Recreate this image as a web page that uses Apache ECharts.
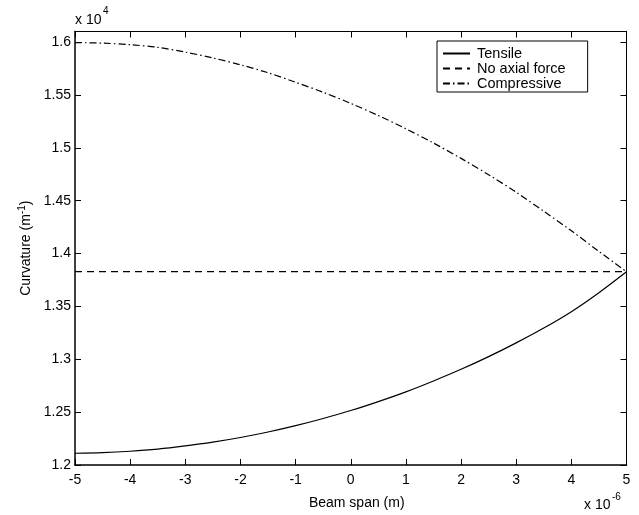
<!DOCTYPE html>
<html>
<head>
<meta charset="utf-8">
<script src="https://cdn.jsdelivr.net/npm/echarts@6/dist/echarts.min.js"></script>
<style>
  html, body { margin: 0; padding: 0; background: #fff; }
  #chart { width: 639px; height: 515px; }
</style>
</head>
<body>
<div id="chart"></div>
<script>
  // beam span (x 1e-6 m) and curvature (x 1e4 1/m)
  var spanX = [-5, -4.5, -4, -3.5, -3, -2.5, -2, -1.5, -1, -0.5, 0, 0.5, 1, 1.5, 2, 2.5, 3, 3.5, 4, 4.5, 5];
  var tensile = [1.2111, 1.2117, 1.2130, 1.2150, 1.2180, 1.2216, 1.2260, 1.2312, 1.2372, 1.2440, 1.2515,
                 1.2600, 1.2692, 1.2795, 1.2905, 1.3025, 1.3155, 1.3295, 1.3450, 1.3630, 1.3828];
  var compressive = [1.5995, 1.5990, 1.5975, 1.5950, 1.5905, 1.5850, 1.5785, 1.5710, 1.5620, 1.5525, 1.5420,
                     1.5305, 1.5180, 1.5045, 1.4900, 1.4745, 1.4580, 1.4400, 1.4215, 1.4020, 1.3828];
  var noAxialX = [-5, 5];
  var noAxial = [1.3828, 1.3828];
  var xTicks = [-5, -4, -3, -2, -1, 0, 1, 2, 3, 4, 5];
  var yTicks = [1.2, 1.25, 1.3, 1.35, 1.4, 1.45, 1.5, 1.55, 1.6];

  function pairs(xs, ys) {
    var out = [];
    for (var i = 0; i < xs.length; i++) out.push([xs[i], ys[i]]);
    return out;
  }

  var font = 'Liberation Sans, Arial, Helvetica, sans-serif';
  var chart = echarts.init(document.getElementById('chart'));

  var option = {
    backgroundColor: '#fff',
    animation: false,
    textStyle: { fontFamily: font },
    grid: { left: 75, top: 31.5, right: 12.5, bottom: 50 },
    legend: {
      orient: 'vertical',
      left: 437, top: 41,
      backgroundColor: '#fff',
      borderColor: '#000', borderWidth: 1,
      padding: [5, 22, 1, 5],
      itemWidth: 27, itemHeight: 8, itemGap: 0,
      itemStyle: { opacity: 0 },
      textStyle: { fontFamily: font, fontSize: 14.5, lineHeight: 13.7, color: '#000', padding: [0, 0, 0, 2] },
      data: ['Tensile', 'No axial force', 'Compressive']
    },
    xAxis: [{
      type: 'value', min: -5, max: 5, interval: 1,
      axisLine: { onZero: false, lineStyle: { color: '#000', width: 1.5 } },
      axisTick: { inside: true, length: 6, lineStyle: { color: '#000' } },
      axisLabel: {
        color: '#000', fontSize: 14, fontFamily: font, margin: 8,
        formatter: function (v) { return xTicks.indexOf(v) >= 0 ? String(v) : ''; }
      },
      splitLine: { show: false },
      name: 'Beam span (m)', nameLocation: 'middle', nameGap: 31,
      nameTextStyle: { color: '#000', fontSize: 14, fontFamily: font, padding: [0, 0, 0, 12] }
    }, {
      type: 'value', min: -5, max: 5, interval: 1, position: 'top',
      axisLine: { onZero: false, lineStyle: { color: '#000', width: 1 } },
      axisTick: { inside: true, length: 6, lineStyle: { color: '#000' } },
      axisLabel: { show: false },
      splitLine: { show: false }
    }],
    yAxis: [{
      type: 'value', min: 1.2, max: 1.61, interval: 0.05,
      axisLine: { onZero: false, lineStyle: { color: '#000', width: 1.5 } },
      axisTick: { inside: true, length: 6, lineStyle: { color: '#000' } },
      axisLabel: {
        color: '#000', fontSize: 14, fontFamily: font, margin: 4,
        formatter: function (v) {
          for (var i = 0; i < yTicks.length; i++) {
            if (Math.abs(yTicks[i] - v) < 1e-6) return String(yTicks[i]);
          }
          return '';
        }
      },
      splitLine: { show: false },
      name: 'Curvature (m{sup|-1})', nameLocation: 'middle', nameGap: 36, nameRotate: 90,
      nameTextStyle: {
        color: '#000', fontSize: 14, fontFamily: font,
        rich: { sup: { fontSize: 10, verticalAlign: 'top', padding: [0, 0, 8, 0], color: '#000', fontFamily: font } }
      }
    }, {
      type: 'value', min: 1.2, max: 1.61, interval: 0.05, position: 'right',
      axisLine: { onZero: false, lineStyle: { color: '#000', width: 1 } },
      axisTick: { inside: true, length: 6, lineStyle: { color: '#000' } },
      axisLabel: { show: false },
      splitLine: { show: false }
    }],
    graphic: [
      { type: 'text', left: 75, top: 13, style: { text: 'x 10', fontSize: 14, fontFamily: font, fill: '#000' } },
      { type: 'text', left: 103, top: 6, style: { text: '4', fontSize: 10, fontFamily: font, fill: '#000' } },
      { type: 'text', left: 584, top: 498, style: { text: 'x 10', fontSize: 14, fontFamily: font, fill: '#000' } },
      { type: 'text', left: 612, top: 492, style: { text: '-6', fontSize: 10, fontFamily: font, fill: '#000' } }
    ],
    series: [{
      name: 'Tensile', type: 'line', showSymbol: false, symbol: 'none', smooth: 0.3,
      lineStyle: { color: '#000', width: 1.2, type: 'solid' },
      itemStyle: { color: '#000' },
      data: pairs(spanX, tensile)
    }, {
      name: 'No axial force', type: 'line', showSymbol: false, symbol: 'none',
      lineStyle: { color: '#000', width: 1.2, type: [7, 5] },
      itemStyle: { color: '#000' },
      data: pairs(noAxialX, noAxial)
    }, {
      name: 'Compressive', type: 'line', showSymbol: false, symbol: 'none', smooth: 0.3,
      lineStyle: { color: '#000', width: 1.2, type: [7, 3, 1.5, 3] },
      itemStyle: { color: '#000' },
      data: pairs(spanX, compressive)
    }]
  };

  chart.setOption(option);
</script>
</body>
</html>
